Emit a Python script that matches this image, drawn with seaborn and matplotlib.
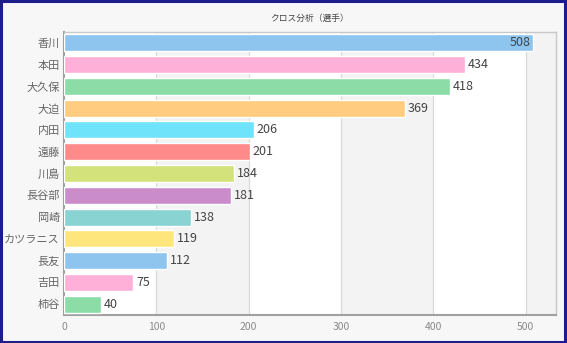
import matplotlib
matplotlib.use("Agg")
import matplotlib.pyplot as plt
import seaborn as sns
import pandas as pd
from matplotlib.patches import Rectangle

players = ["香川", "本田", "大久保", "大迫", "内田", "遠藤", "川島", "長谷部", "岡崎",
           "カツラニス", "長友", "吉田", "柿谷"]
counts = [508, 434, 418, 369, 206, 201, 184, 181, 138, 119, 112, 75, 40]
colors = ["#8DC5EE", "#FFB0D8", "#8CDCA8", "#FFCC80", "#6EE3FA", "#FF8A8A", "#D3E27A",
          "#CB8CCB", "#8AD3D3", "#FFE67C", "#8DC5EE", "#FFB0D8", "#8CDCA8"]
x_ticks = [0, 100, 200, 300, 400, 500]
title = "クロス分析（選手）"

sns.set_theme(style="white")
plt.rcParams['font.family'] = ['Noto Sans CJK JP', 'DejaVu Sans']

df = pd.DataFrame({"player": players, "count": counts})

fig = plt.figure(figsize=(5.67, 3.43), dpi=100)
fig.patch.set_facecolor("#f7f7f7")
ax = fig.add_axes([64/567, 28/343, (556-64)/567, (315-32)/343])
ax.set_facecolor("white")

# alternating bands
for i in range(len(x_ticks)):
    if i % 2 == 1:
        right = x_ticks[i+1] if i+1 < len(x_ticks) else 540
        ax.axvspan(x_ticks[i], right, color="#f3f3f3", zorder=0, lw=0)

sns.barplot(data=df, y="player", x="count", hue="player", palette=colors,
            orient="h", width=0.78, legend=False, ax=ax, zorder=3, saturation=1)

ax.set_xlim(0, 533)
ax.set_ylim(len(players) - 0.5, -0.5)
ax.set_xticks(x_ticks)
ax.set_xticklabels([str(t) for t in x_ticks])
for t in x_ticks[1:]:
    ax.axvline(t, color="#d9d9d9", lw=0.9, zorder=1)

ax.set_xlabel("")
ax.set_ylabel("")
ax.tick_params(axis="x", colors="#8a8a8a", labelsize=7.5, length=0, pad=5)
ax.tick_params(axis="y", colors="#666666", labelsize=8, length=0, pad=3)

for s in ["left", "bottom"]:
    ax.spines[s].set_color("#a0a0a0")
    ax.spines[s].set_linewidth(1.5)
for s in ["top", "right"]:
    ax.spines[s].set_color("#c8c8c8")
    ax.spines[s].set_linewidth(1.0)

xmax = ax.get_xlim()[1]
for i, v in enumerate(counts):
    if v > xmax * 0.9:
        ax.text(v - 3, i, str(v), ha="right", va="center", fontsize=9, color="#444444", zorder=5)
    else:
        ax.text(v + 3, i, str(v), ha="left", va="center", fontsize=9, color="#444444", zorder=5)

fig.text(310/567, 1 - 18/343, title, ha="center", va="center", fontsize=6.3, color="#444444")

fig.patches.append(Rectangle((0.002, 0.003), 0.995, 0.993, transform=fig.transFigure,
                             fill=False, edgecolor="#1c1c8a", lw=2.2))

fig.savefig("out.png", dpi=100, facecolor=fig.get_facecolor())
